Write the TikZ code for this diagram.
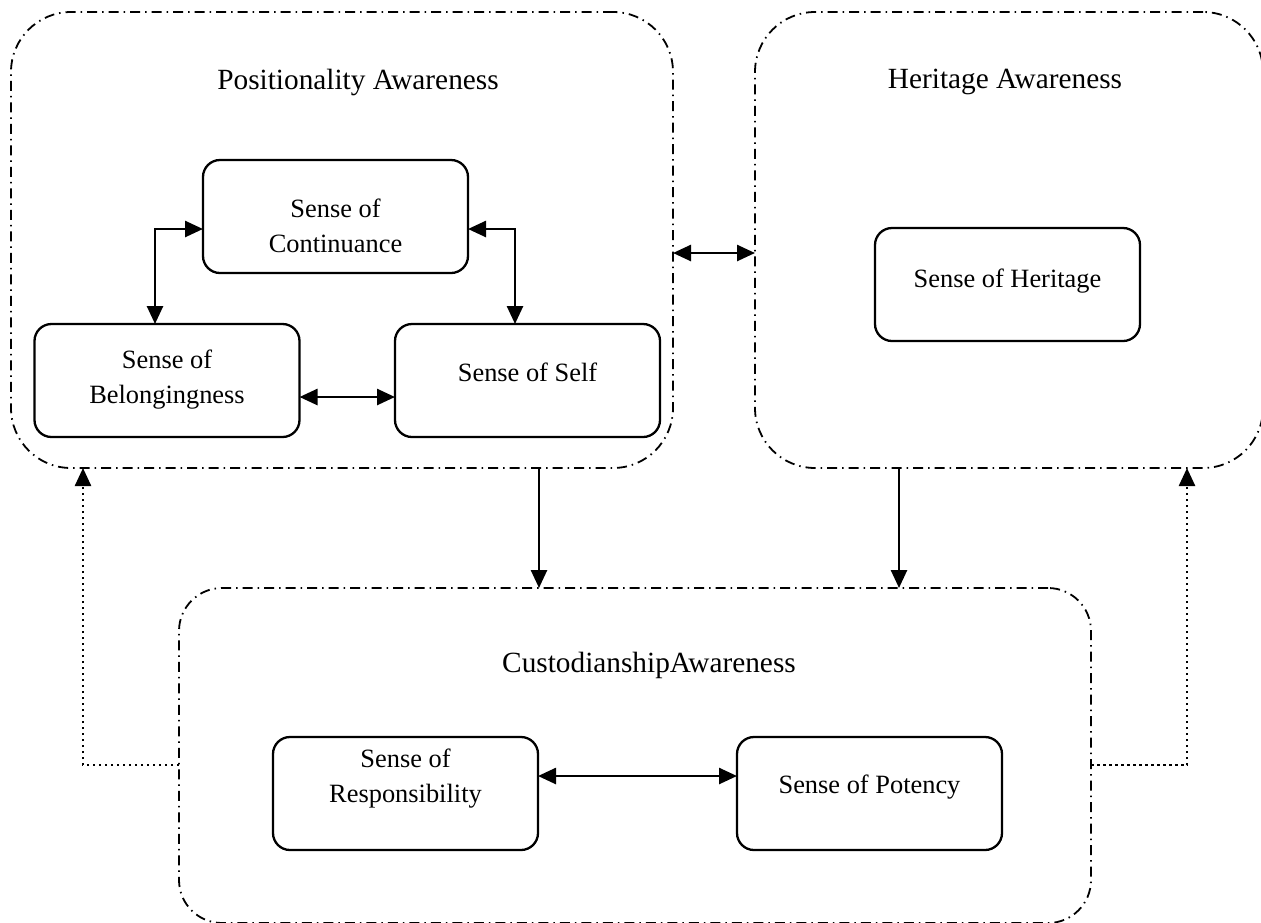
\documentclass[tikz,border=0pt]{standalone}
\usepackage{fontspec}
\setmainfont{Liberation Serif}
\usetikzlibrary{arrows.meta}
\begin{document}
\begin{tikzpicture}[x=1pt,y=-1pt,
  frame/.style={draw, line width=1.8pt, dash pattern=on 10pt off 5pt on 1.5pt off 5pt,
    inner sep=0pt, outer sep=0pt},
  card/.style={draw, line width=2.3pt, rounded corners=17pt, minimum width=265pt,
    minimum height=113pt, inner sep=0pt, outer sep=0pt},
  heading/.style={font=\fontsize{29.3}{35}\selectfont, anchor=north, inner sep=0pt},
  caption/.style={font=\fontsize{26.4}{35}\selectfont, align=center, anchor=north, inner sep=0pt},
  link/.style={line width=2.6pt, -{Triangle[length=18pt,width=16pt]}},
  twoway/.style={line width=2.6pt, {Triangle[length=18pt,width=16pt]}-{Triangle[length=18pt,width=16pt]}},
  feedback/.style={line width=2.5pt, dash pattern=on 2.5pt off 3.5pt, -{Triangle[length=18pt,width=16pt]}}
]
\useasboundingbox (0,0) rectangle (1261,922);

% outer awareness groups
\node[frame, rounded corners=60pt, minimum width=662pt, minimum height=456pt] (pos) at (342,240) {};
\node[frame, rounded corners=60pt, minimum width=508pt, minimum height=456pt] (herit) at (1009,240) {};
\node[frame, rounded corners=43pt, minimum width=912pt, minimum height=335pt] (cust) at (635,755.5) {};

\node[heading] (pos-title) at (358,69) {Positionality Awareness};
\node[heading] (herit-title) at (1005,69) {Heritage Awareness};
\node[heading] (cust-title) at (649,652) {CustodianshipAwareness};

% inner sense boxes
\node[card] (cont) at (335.5,216.5) {};
\node[card] (belong) at (167,380.5) {};
\node[card] (self) at (527.5,380.5) {};
\node[card] (sher) at (1007.5,284.5) {};
\node[card] (resp) at (405.5,793.5) {};
\node[card] (pot) at (869.5,793.5) {};

\node[caption] (cont-t) at (335.5,199) {Sense of\\Continuance};
\node[caption] (belong-t) at (167,350) {Sense of\\Belongingness};
\node[caption] (self-t) at (527.5,363) {Sense of Self};
\node[caption] (sher-t) at (1007.5,269) {Sense of Heritage};
\node[caption] (resp-t) at (405.5,749) {Sense of\\Responsibility};
\node[caption] (pot-t) at (869.5,775) {Sense of Potency};

% links inside positionality
\draw[twoway] ([yshift=-12.5pt]cont.west) -| ([xshift=-12pt]belong.north);
\draw[twoway] ([yshift=-12.5pt]cont.east) -| ([xshift=-12.5pt]self.north);
\draw[twoway] ([yshift=-16.5pt]belong.east) -- ([yshift=-16.5pt]self.west);

% links between groups
\draw[twoway] ([yshift=-13pt]pos.east) -- ([yshift=-13pt]herit.west);
\draw[link] ([xshift=197pt]pos.south) -- ([xshift=197pt]pos.south |- cust.north);
\draw[link] ([xshift=-110pt]herit.south) -- ([xshift=-110pt]herit.south |- cust.north);
\draw[twoway] ([yshift=17.5pt]resp.east) -- ([yshift=17.5pt]pot.west);

% feedback loops
\draw[feedback] ([yshift=-9.5pt]cust.west) -| ([xshift=-259pt]pos.south);
\draw[feedback] ([yshift=-9.5pt]cust.east) -| ([xshift=178pt]herit.south);
\end{tikzpicture}
\end{document}
